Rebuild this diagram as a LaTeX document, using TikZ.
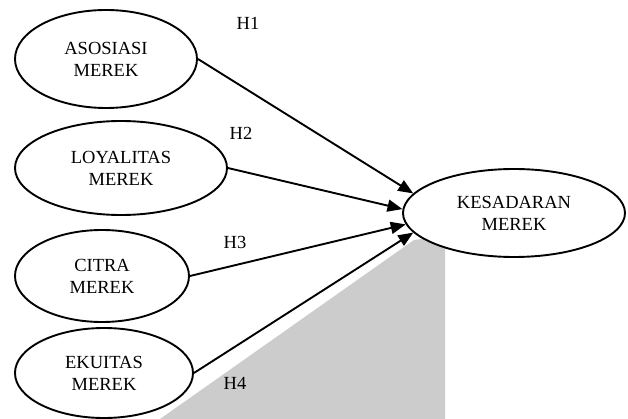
\documentclass[tikz,border=0pt]{standalone}
\usepackage{fontspec}
\setmainfont{Liberation Serif}
\usetikzlibrary{arrows.meta,shapes.geometric}

\begin{document}
\begin{tikzpicture}[x=1pt,y=-1pt,
    font=\fontsize{18.5}{22}\selectfont,
    var/.style={ellipse, draw, fill=white, line width=1.9pt, inner sep=0pt, align=center},
    hyp/.style={-{Triangle[length=15pt,width=12pt]}, line width=1.9pt}]

      \useasboundingbox (0,0) rectangle (628,419);

      % shaded area behind the dependent variable
      \fill[gray!40] (160,419) -- (414,240) -- (445,236) -- (445,419) -- cycle;

      \begin{scope}[every node/.style={var}]
        \node[minimum width=182pt, minimum height=98pt] (1) at (106,59)  {ASOSIASI\\MEREK};
        \node[minimum width=212pt, minimum height=94pt] (2) at (121,168) {LOYALITAS\\MEREK};
        \node[minimum width=174pt, minimum height=92pt] (3) at (102,276) {CITRA\\MEREK};
        \node[minimum width=178pt, minimum height=90pt] (4) at (104,373) {EKUITAS\\MEREK};
        \node[minimum width=222pt, minimum height=88pt] (5) at (514,213) {KESADARAN\\MEREK};
      \end{scope}

      \node (h1) at (248,23)  {H1};
      \node (h2) at (241,133) {H2};
      \node (h3) at (235,242) {H3};
      \node (h4) at (235,383) {H4};

      \begin{scope}[every path/.style={hyp}]
        \draw (1.east) -- (5.169);
        \draw (2.east) -- (5.178);
        \draw (3.east) -- (5.186);
        \draw (4.east) -- (5.191);
      \end{scope}

    \end{tikzpicture}
\end{document}
